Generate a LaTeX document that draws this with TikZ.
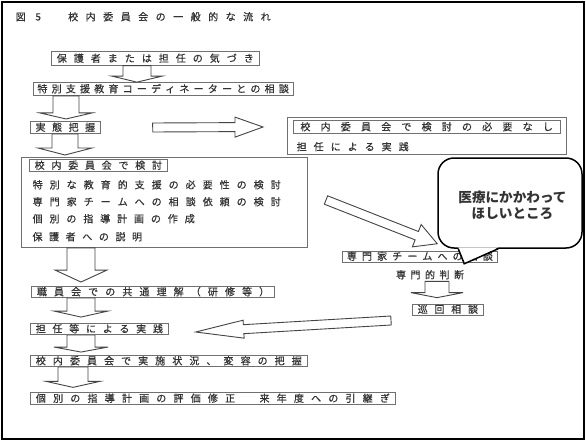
\documentclass[tikz,border=0pt]{standalone}
\usepackage{fontspec}
\newfontfamily\jp{Noto Sans CJK JP}
\newfontfamily\jpm[FakeBold=0.6]{Noto Sans CJK JP}
\usetikzlibrary{calc}
\definecolor{txtc}{HTML}{333333}
\definecolor{boxc}{HTML}{707070}
\definecolor{arrc}{HTML}{444444}
\makeatletter
\newcommand\spr[2]{\@tfor\jp@c:=#2\do{\makebox[#1]{\jp@c}}}
\makeatother
\newcommand\blockarrow[5]{%
  \coordinate (baA) at #1; \coordinate (baB) at #2;
  \coordinate (baH) at ($(baB)!#5!(baA)$);
  \draw[blk] ($(baA)!#3!90:(baB)$) -- ($(baH)!#3!90:(baB)$) -- ($(baH)!#4!90:(baB)$) -- (baB)
    -- ($(baH)!#4!-90:(baB)$) -- ($(baH)!#3!-90:(baB)$) -- ($(baA)!#3!-90:(baB)$) -- cycle;}
\begin{document}
\begin{tikzpicture}[x=1pt,y=-1pt,
  jt/.style={font=\jpm\fontsize{10}{11}\selectfont, text=txtc, inner xsep=2pt, inner ysep=1.2pt,
             text height=8.5pt, text depth=1.5pt, anchor=west},
  jb/.style={jt, draw=boxc, line width=0.7pt},
  frame/.style={draw=boxc, line width=0.8pt, inner sep=0pt, anchor=north west},
  blk/.style={draw=arrc, line width=0.9pt, fill=white, line join=miter}]
\useasboundingbox (0,0) rectangle (586,441);
\fill[white] (0,0) rectangle (586,441);

\coordinate (c137) at (137,0);
\coordinate (c66) at (66,0);
\coordinate (c65) at (65,0);
\coordinate (c81) at (81,0);
\coordinate (c73) at (73,0);
\coordinate (c437) at (437,0);

% title
\node[jt, inner sep=0pt] (title) at (11.75,17) {\spr{17.5pt}{図5　校内委員会の一般的な流れ}};

% left column
\node[jb, inner ysep=1.8pt] (b1) at (51,58.5) {\spr{17pt}{保護者または担任の気づき}};
\node[jb, inner ysep=1.5pt] (b2) at (33,89) {\spr{14.2pt}{特別支援教育コーディネーターとの相談}};
\node[jb] (b3) at (30,127.5) {\spr{16.5pt}{実態把握}};

\node[frame, minimum width=286pt, minimum height=90pt] (kentou) at (21,157) {};
\node[jb] (k0) at (29,165.5) {\spr{16.75pt}{校内委員会で検討}};
\node[jt] (k1) at (27,185) {\spr{17pt}{特別な教育的支援の必要性の検討}};
\node[jt] (k2) at (27,202) {\spr{17pt}{専門家チームへの相談依頼の検討}};
\node[jt] (k3) at (27,219) {\spr{16.9pt}{個別の指導計画の作成}};
\node[jt] (k4) at (27,237) {\spr{16.6pt}{保護者への説明}};

\node[jb, inner ysep=0.6pt] (b4) at (31,292) {\spr{17.1pt}{職員会での共通理解（研修等）}};
\node[jb, inner ysep=0.6pt] (b5) at (30,329) {\spr{16.75pt}{担任等による実践}};
\node[jb, inner ysep=0.6pt] (b6) at (30,361) {\spr{17.06pt}{校内委員会で実施状況、変容の把握}};
\node[jb, inner ysep=0.8pt] (b7) at (30,398.5) {\spr{17.2pt}{個別の指導計画の評価修正　来年度への引継ぎ}};

% right box
\node[frame, minimum width=279pt, minimum height=37pt] (hitsuyou) at (287,117) {};
\node[jb] (r0) at (293,127) {\spr{20.2pt}{校内委員会で検討の必要なし}};
\node[jt] (r1) at (291,147) {\spr{17pt}{担任による実践}};

% expert path
\node[jb, inner ysep=0.5pt] (senmon) at (342,256.5) {\spr{15.1pt}{専門家チームへの相談}};
\node[jt, anchor=center] (handan) at (430,275) {\spr{14.5pt}{専門的判断}};
\node[jb, inner ysep=0.5pt] (junkai) at (412,309.5) {\spr{16.75pt}{巡回相談}};

% down arrows
\blockarrow{(b1.south -| c137)}{(b2.north -| c137)}{14pt}{25pt}{6pt}
\blockarrow{(b2.south -| c66)}{($(b3.north -| c66)+(0,-2)$)}{13pt}{26pt}{6pt}
\blockarrow{(b3.south -| c65)}{($(kentou.north -| c65)+(0,-2)$)}{13pt}{27pt}{7pt}
\blockarrow{(kentou.south -| c81)}{($(b4.north -| c81)+(0,-4)$)}{14pt}{26pt}{12pt}
\blockarrow{(b4.south -| c81)}{($(b5.north -| c81)+(0,-6)$)}{14pt}{27pt}{6pt}
\blockarrow{(b5.south -| c81)}{($(b6.north -| c81)+(0,-3)$)}{14pt}{27pt}{5pt}
\blockarrow{(b6.south -| c73)}{($(b7.north -| c73)+(0,-5)$)}{15pt}{27pt}{6pt}
\blockarrow{(handan.south -| c437)}{($(junkai.north -| c437)+(0,-6)$)}{12pt}{26pt}{5pt}

% horizontal / oblique arrows
\blockarrow{($(b3.east)+(52,0)$)}{($(r0.west)+(-30,0)$)}{4.5pt}{10pt}{28pt}
\coordinate (la) at (391,320.5);
\blockarrow{(la)}{($(b5.east)+(27,3)$)}{4.5pt}{9pt}{48pt}
\coordinate (da) at (326,200);

% callout
\node[draw=black, line width=1.5pt, fill=white, rounded corners=16pt,
      minimum width=144pt, minimum height=90pt] (call) at (510,203) {};
\blockarrow{(da)}{($(call.south west)+(0,-5)$)}{4.5pt}{12pt}{22pt}
\fill[white] ($(call.south west)+(21,-1.3)$) -- ($(call.south west)+(27,15)$) -- ($(call.south west)+(61,-1.3)$) -- cycle;
\draw[line width=1.5pt, line join=miter] ($(call.south west)+(21,0)$) -- ($(call.south west)+(27,15)$) -- ($(call.south west)+(61,0)$);
\node[font=\jp\bfseries\fontsize{13.6}{15.5}\selectfont, align=center, text=black!80] (calltext)
  at ($(call.center)+(2.5,2.5)$) {医療にかかわって\\ほしいところ};

% outer frame
\draw[line width=2.5pt] (2,2) rectangle (584,439);
\end{tikzpicture}
\end{document}
